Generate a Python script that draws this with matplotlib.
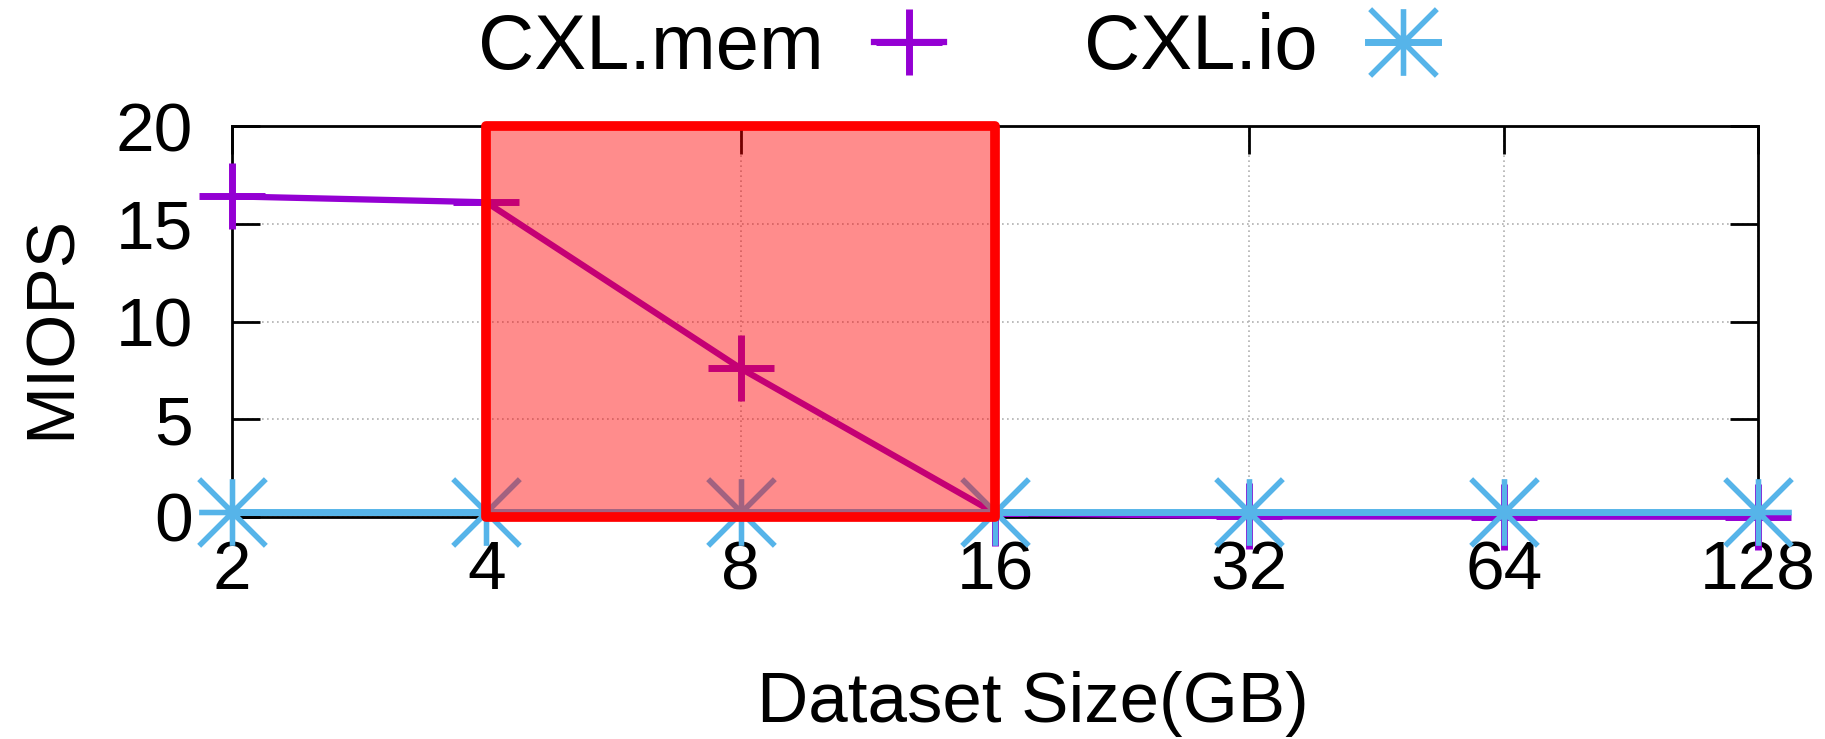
import numpy as np
import matplotlib
matplotlib.use("Agg")
import matplotlib.pyplot as plt
from matplotlib.path import Path
from matplotlib.patches import Rectangle
from matplotlib.ticker import FixedLocator, NullLocator

plt.rcParams['font.family'] = ['Liberation Sans', 'DejaVu Sans']

# data
sizes = [2, 4, 8, 16, 32, 64, 128]
size_labels = ['2', '4', '8', '16', '32', '64', '128']
cxl_mem = [16.4, 16.1, 7.6, 0.2, 0.03, 0.02, 0.01]
cxl_io = [0.25, 0.25, 0.25, 0.25, 0.25, 0.25, 0.25]
highlight = (4, 16)   # shaded range on the x axis

# gnuplot style asterisk: plus + cross inside the same box
asterisk = Path(
    [(0, -1), (0, 1), (-1, 0), (1, 0), (-1, -1), (1, 1), (-1, 1), (1, -1)],
    [Path.MOVETO, Path.LINETO] * 4)

fig = plt.figure(figsize=(18.25, 7.39), dpi=100)
ax = fig.add_axes([232 / 1825, 1 - 517 / 739, 1526 / 1825, 391 / 739])

ax.plot(sizes, cxl_mem, color='#9400d3', lw=4.5, marker='+', ms=47, mew=5,
        label='CXL.mem', zorder=3, clip_on=False)
ax.plot(sizes, cxl_io, color='#56b4e9', lw=5, marker=asterisk, ms=48, mew=4,
        label='CXL.io', zorder=3, clip_on=False)

ax.add_patch(Rectangle((highlight[0], 0), highlight[1] - highlight[0], 20,
                       facecolor=(1, 0, 0, 0.45), edgecolor='red', lw=7,
                       joinstyle='round', zorder=4, clip_on=False))

ax.set_xscale('log', base=2)
ax.set_xlim(2, 128)
ax.set_ylim(0, 20)
ax.xaxis.set_major_locator(FixedLocator(sizes))
ax.xaxis.set_minor_locator(NullLocator())
ax.set_xticklabels(size_labels)
ax.set_yticks([0, 5, 10, 15, 20])

ax.tick_params(direction='in', length=20, width=2, labelsize=50,
               top=True, right=True)
ax.tick_params(axis='y', pad=28)
ax.tick_params(axis='x', pad=16)
ax.grid(True, color='#b0b0b0', lw=1.2, linestyle=(0, (1, 2)))
for s in ax.spines.values():
    s.set_linewidth(2)

ax.set_ylabel('MIOPS', fontsize=50, va='center')
ax.yaxis.set_label_coords(-0.118, 0.487)
ax.set_xlabel('Dataset Size(GB)', fontsize=51, va='center')
ax.xaxis.set_label_coords(0.525, -0.478)

fig.legend(loc='center', bbox_to_anchor=(0.525, 0.934), ncol=2, frameon=False,
           markerfirst=False, fontsize=56, handlelength=0.9, handletextpad=0.65,
           columnspacing=1.8)

fig.savefig('out.png', dpi=100)
